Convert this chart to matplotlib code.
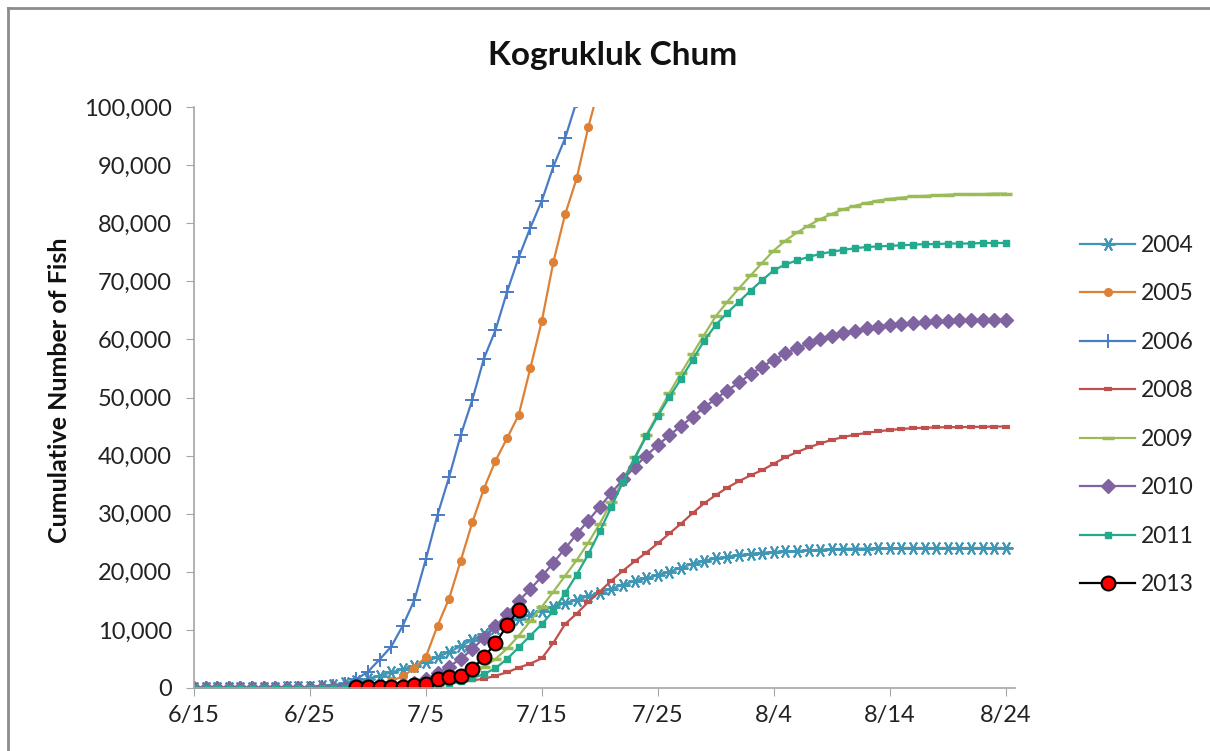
import numpy as np
import pandas as pd
import matplotlib
matplotlib.use('Agg')
import matplotlib.pyplot as plt
from matplotlib.lines import Line2D

plt.rcParams['font.family'] = ['Lato', 'DejaVu Sans']

# daily dates 6/15 .. 8/24
dni = pd.date_range('2013-06-15', '2013-08-24', freq='D')
etykiety_x = ['6/15', '6/25', '7/5', '7/15', '7/25', '8/4', '8/14', '8/24']
etykiety_y = ['0', '10,000', '20,000', '30,000', '40,000', '50,000',
              '60,000', '70,000', '80,000', '90,000', '100,000']

y2004 = [0, 0, 0, 0, 0, 0, 0, 0, 100, 100, 200,
         300, 500, 800, 1200, 1600, 2100, 2700, 3200, 3800, 4500,
         5300, 6200, 7200, 8300, 9300, 10300, 11100, 11900, 12600, 13300,
         14000, 14600, 15200, 15800, 16400, 17100, 17800, 18400, 18900, 19400,
         20000, 20700, 21400, 21900, 22300, 22600, 22900, 23100, 23300, 23400,
         23500, 23600, 23700, 23800, 23900, 23950, 24000, 24000, 24050, 24050,
         24100, 24100, 24100, 24100, 24100, 24100, 24100, 24100, 24100, 24100]

y2005 = [0, 0, 0, 0, 0, 0, 0, 0, 0, 0, 0, 0, 0,
         100, 200, 400, 700, 1200, 2000, 3400, 5400, 10700, 15400, 21900,
         28500, 34300, 39100, 43000, 47000, 55000, 63200, 73400, 81500,
         87700, 96500, 104000]

y2006 = [0, 0, 0, 0, 0, 0, 0, 0, 0, 0, 0, 100, 300,
         700, 1500, 2800, 4900, 7100, 10700, 15100, 22200, 29800, 36300,
         43500, 49600, 56700, 61600, 68200, 74100, 79200, 83900, 89800,
         94600, 101000]

y2008 = [0, 0, 0, 0, 0, 0, 0, 0, 0, 0, 0, 0, 0, 0, 0, 50, 100, 100, 150,
         200, 400, 600, 800, 1000, 1300, 1600, 2100, 2700, 3500, 4200, 5100,
         7800, 11000, 12800, 14800, 16600, 18500, 20200, 21800, 23300, 24900,
         26600, 28300, 30100, 31800, 33200, 34500, 35600, 36600, 37500, 38600,
         39700, 40600, 41400, 42100, 42700, 43200, 43600, 43900, 44200, 44400,
         44600, 44700, 44800, 44850, 44900, 44900, 44950, 44950, 45000, 45000]

y2009 = [0, 0, 0, 0, 0, 0, 0, 0, 0, 0, 0, 0, 0, 0, 0, 0, 50, 100, 150, 200,
         300, 600, 1000, 1600, 2500, 3600, 5000, 6800, 9000, 11500, 14000,
         16600, 19300, 22000, 25000, 28300, 32000, 35800, 39700, 43500, 47200,
         50800, 54200, 57500, 60800, 64000, 66500, 68800, 71000, 73200, 75300,
         77000, 78400, 79600, 80700, 81600, 82400, 83000, 83500, 83900, 84200,
         84400, 84600, 84700, 84800, 84900, 85000, 85000, 85000, 85100, 85100]

y2010 = [0, 0, 0, 0, 0, 0, 0, 0, 0, 0, 0, 0, 0, 0, 50, 100, 200, 300,
         500, 900, 1500, 2500, 3700, 5000, 6700, 8600, 10600, 12800, 15000,
         17000, 19200, 21600, 24000, 26500, 28800, 31200, 33600, 35900, 38000,
         40000, 41800, 43500, 45100, 46700, 48300, 49800, 51200, 52600, 54000,
         55300, 56500, 57600, 58500, 59300, 60000, 60600, 61100, 61500, 61900,
         62200, 62500, 62700, 62900, 63000, 63100, 63200, 63300, 63300, 63400,
         63400, 63400]

y2011 = [0, 0, 0, 0, 0, 0, 0, 0, 0, 0, 0, 0, 0, 0, 0, 0, 50, 100, 150, 200,
         300, 500, 800, 1200, 1700, 2400, 3400, 5000, 7000, 9000, 11000,
         13300, 16300, 19500, 23000, 27000, 31200, 35500, 39500, 43300, 46800,
         50100, 53200, 56500, 59800, 62500, 64600, 66500, 68400, 70200, 71900,
         72900, 73600, 74200, 74700, 75100, 75400, 75700, 75900, 76000, 76100,
         76200, 76300, 76400, 76400, 76500, 76500, 76500, 76600, 76600, 76600]

start2013 = 14  # 6/29
y2013 = [100, 100, 150, 200, 250, 500, 700, 1500, 1900, 2000, 3300, 5300,
         7700, 10800, 13400]

fig = plt.figure(figsize=(12.1, 7.51), dpi=100)
ax = fig.add_axes([194 / 1210, 1 - 688 / 751, (1015 - 194) / 1210, (688 - 107) / 751])

ax.plot(dni[:len(y2004)], y2004, color='#3F97B5', lw=1.6, marker=(6, 2, 90), ms=10, mew=1.4,
        label='2004')
ax.plot(dni[:len(y2005)], y2005, color='#DD8136', lw=1.6, marker='o', ms=5.5, label='2005')
ax.plot(dni[:len(y2006)], y2006, color='#4A7CC4', lw=1.6, marker='+', ms=10, mew=1.4,
        label='2006')
ax.plot(dni[:len(y2008)], y2008, color='#C0504D', lw=1.6, marker='_', ms=6, mew=3,
        label='2008')
ax.plot(dni[:len(y2009)], y2009, color='#9BBB59', lw=1.6, marker='_', ms=8, mew=2.5,
        label='2009')
ax.plot(dni[:len(y2010)], y2010, color='#8064A2', lw=1.6, marker='D', ms=7.5, label='2010')
ax.plot(dni[:len(y2011)], y2011, color='#23A98B', lw=1.6, marker='s', ms=5, label='2011')
ax.plot(dni[start2013:start2013 + len(y2013)], y2013, color='black', lw=1.6, marker='o',
        ms=10, mfc='#FF0000', mec='black', mew=1.5, label='2013')

ax.set_ylim(0, 100000)
ax.set_xlim(dni[0], dni[0] + pd.Timedelta(days=70.8))
ax.set_xticks(dni[::10])
ax.set_xticklabels(etykiety_x)
ax.set_yticks(np.arange(0, 100001, 10000))
ax.set_yticklabels(etykiety_y)

for s in ['top', 'right']:
    ax.spines[s].set_visible(False)
for s in ['left', 'bottom']:
    ax.spines[s].set_color('#A6A6A6')
    ax.spines[s].set_linewidth(1.2)
ax.tick_params(axis='both', direction='out', length=6, color='#A6A6A6', labelsize=17,
               labelcolor='#222222')
ax.tick_params(axis='y', pad=10)
ax.tick_params(axis='x', pad=6)

fig.text(613 / 1210, 1 - 55 / 751, 'Kogrukluk Chum', ha='center', va='center',
         fontsize=24, fontweight='bold', color='#111111')
fig.text(60 / 1210, 1 - 390 / 751, 'Cumulative Number of Fish', ha='center', va='center',
         rotation=90, fontsize=18, fontweight='bold', color='#111111')

fig.legend(loc='center left', bbox_to_anchor=(1080 / 1210, 1 - 415 / 751), frameon=False,
           fontsize=16.5, handlelength=2.4, handletextpad=0.25, labelspacing=1.2,
           borderpad=0, borderaxespad=0, labelcolor='#222222')

# chart border (only left and top visible in the crop)
fig.add_artist(Line2D([8 / 1210, 8 / 1210], [0, 1 - 8 / 751], transform=fig.transFigure,
                      color='#8C8C8C', lw=2))
fig.add_artist(Line2D([8 / 1210, 1], [1 - 8 / 751, 1 - 8 / 751], transform=fig.transFigure,
                      color='#8C8C8C', lw=2))

plt.savefig('out.png', dpi=100)
